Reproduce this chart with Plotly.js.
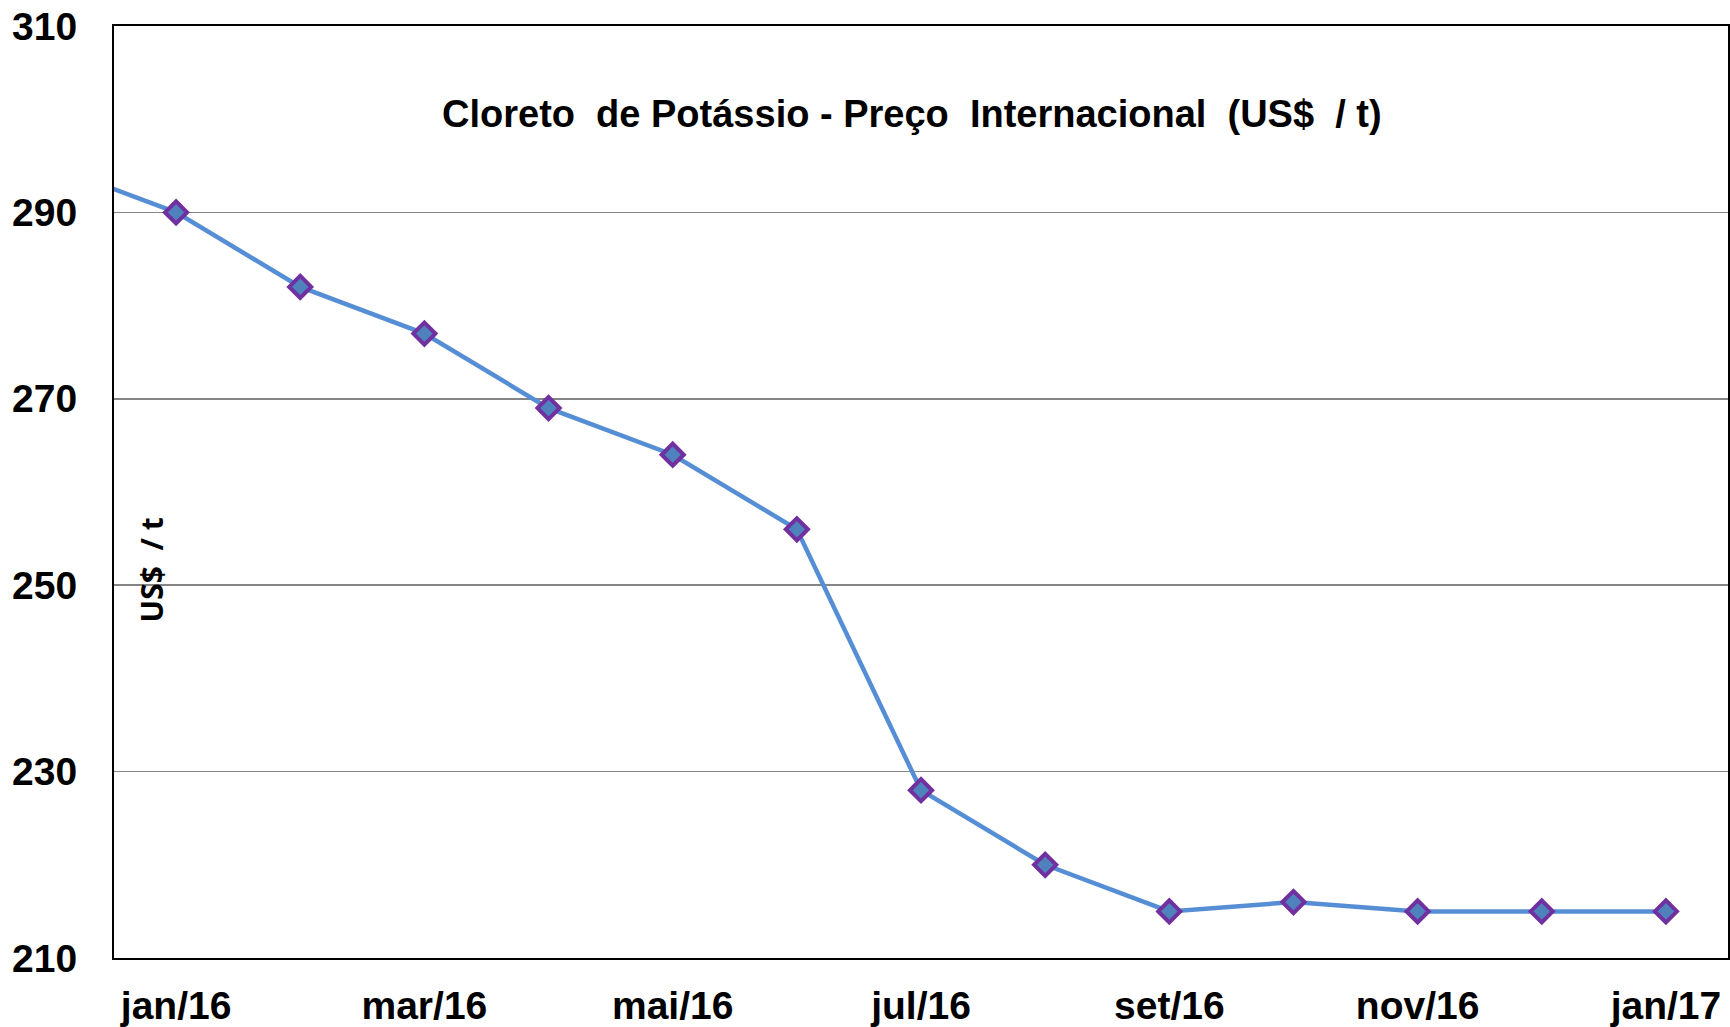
<!DOCTYPE html>
<html>
<head>
<meta charset="utf-8">
<script src="https://cdn.plot.ly/plotly-3.0.1.min.js"></script>
<style>html,body{margin:0;padding:0;background:#fff;}#chart{width:1730px;height:1027px;}</style>
</head>
<body>
<div id="chart"></div>
<script>
const months = ['dez/15','jan/16','fev/16','mar/16','abr/16','mai/16','jun/16','jul/16','ago/16','set/16','out/16','nov/16','dez/16','jan/17'];
const prices = [295, 290, 282, 277, 269, 264, 256, 228, 220, 215, 216, 215, 215, 215];
const tickLabels = ['jan/16','mar/16','mai/16','jul/16','set/16','nov/16','jan/17'];
const yTicks = [210, 230, 250, 270, 290, 310];
const chartTitle = 'Cloreto\u00A0 de Potássio - Preço\u00A0 Internacional\u00A0 (US$\u00A0 / t)';
const yTitle = 'US$\u00A0 / t';

const trace = {
  x: months,
  y: prices,
  type: 'scatter',
  mode: 'lines+markers',
  line: {color: '#558ed5', width: 4.5},
  marker: {symbol: 'diamond', size: 17, color: '#4f81bd', line: {color: '#7030a0', width: 4}},
  cliponaxis: true,
  hoverinfo: 'x+y'
};

const layout = {
  width: 1730, height: 1027,
  margin: {l: 114, r: 2, t: 26, b: 69},
  paper_bgcolor: '#ffffff', plot_bgcolor: '#ffffff',
  showlegend: false,
  font: {family: 'Liberation Sans, Arial, sans-serif', color: '#000'},
  xaxis: {
    type: 'category',
    categoryorder: 'array', categoryarray: months,
    range: [0.5, 13.5],
    tickmode: 'array', tickvals: tickLabels, ticktext: tickLabels,
    ticks: '', showgrid: false,
    showline: true, linecolor: '#000', linewidth: 2, mirror: true,
    tickfont: {size: 39, family: 'Liberation Sans, Arial, sans-serif', weight: 'bold'},
    ticklabelstandoff: 12,
    zeroline: false
  },
  yaxis: {
    range: [210, 310],
    tickmode: 'array', tickvals: yTicks, ticktext: yTicks.map(String),
    ticks: '', showgrid: true, gridcolor: '#858585', gridwidth: 1.5,
    showline: true, linecolor: '#000', linewidth: 2, mirror: true,
    tickfont: {size: 39, family: 'Liberation Sans, Arial, sans-serif', weight: 'bold'},
    ticklabelstandoff: 27,
    zeroline: false
  },
  annotations: [
    {text: chartTitle, xref: 'paper', yref: 'paper', x: 0.4945, y: 0.906, xanchor: 'center', yanchor: 'middle', showarrow: false,
     font: {size: 38, family: 'Liberation Sans, Arial, sans-serif', weight: 'bold', color: '#000'}},
    {text: yTitle, xref: 'paper', yref: 'paper', x: 0.023, y: 0.416, xanchor: 'center', yanchor: 'middle', showarrow: false, textangle: -90,
     font: {size: 30, family: 'Open Sans, sans-serif', weight: 'bold', color: '#000'}}
  ]
};

Plotly.newPlot('chart', [trace], layout, {displayModeBar: false, staticPlot: true});
</script>
</body>
</html>
